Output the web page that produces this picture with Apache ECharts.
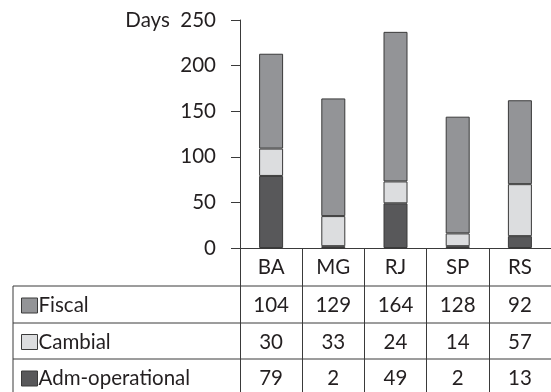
<!DOCTYPE html>
<html>
<head>
<meta charset="utf-8">
<script src="https://cdn.jsdelivr.net/npm/echarts@6/dist/echarts.min.js"></script>
<style>
  html, body { margin: 0; padding: 0; background: #fff; }
  #chart { width: 551px; height: 392px; }
</style>
</head>
<body>
<div id="chart"></div>
<script>
// Days per state, split by kind of delay
const states = ['BA', 'MG', 'RJ', 'SP', 'RS'];
const fiscal = [104, 129, 164, 128, 92];
const cambial = [30, 33, 24, 14, 57];
const admOperational = [79, 2, 49, 2, 13];
const yTicks = [0, 50, 100, 150, 200, 250];

const FONT = 'Lato';
const FONT_SIZE = 20.5;
const INK = '#231f20';
const LINE = '#3a3a3a';

// table geometry
const AXIS_Y = 248;
const ROW_OFFSETS = [38, 75, 111];
const TABLE_LEFT = 13;

const chart = echarts.init(document.getElementById('chart'), null, { renderer: 'canvas' });

const labelStyle = { fontSize: FONT_SIZE, fontFamily: FONT, color: INK, lineHeight: 20 };

function valueAxis(values, offset) {
  return {
    type: 'category',
    data: values.map(String),
    position: 'bottom',
    offset: offset,
    gridIndex: 0,
    axisLine: { show: false },
    axisTick: { show: false },
    axisLabel: Object.assign({ margin: 9 }, labelStyle)
  };
}

const colors = { fiscal: '#939497', cambial: '#dcdddf', adm: '#58585a' };
const barStyle = c => ({ color: c, borderColor: LINE, borderWidth: 1 });

const hLines = ROW_OFFSETS.map(o => ({
  type: 'line',
  shape: { x1: TABLE_LEFT, y1: AXIS_Y + o, x2: 551, y2: AXIS_Y + o },
  style: { stroke: LINE, lineWidth: 1 }
}));
hLines.push({
  type: 'line',
  shape: { x1: TABLE_LEFT, y1: AXIS_Y + ROW_OFFSETS[0], x2: TABLE_LEFT, y2: 392 },
  style: { stroke: LINE, lineWidth: 1 }
});

chart.setOption({
  animation: false,
  backgroundColor: '#ffffff',
  grid: { left: 240, top: 20, width: 312, height: AXIS_Y - 20 },
  legend: {
    orient: 'vertical',
    left: 21,
    top: 295,
    width: 215,
    height: 110,
    padding: 0,
    itemWidth: 16,
    itemHeight: 15,
    itemGap: 15.5,
    icon: 'rect',
    selectedMode: false,
    data: ['Fiscal', 'Cambial', 'Adm-operational'],
    itemStyle: { borderColor: LINE, borderWidth: 1 },
    textStyle: Object.assign({ padding: [0, 0, 0, -4] }, labelStyle)
  },
  xAxis: [
    {
      type: 'category',
      data: states,
      position: 'bottom',
      axisLine: { show: true, lineStyle: { color: LINE, width: 1 } },
      axisTick: { show: true, alignWithLabel: false, interval: 0, length: 392 - AXIS_Y, lineStyle: { color: LINE, width: 1 } },
      axisLabel: Object.assign({ margin: 9 }, labelStyle)
    },
    valueAxis(fiscal, ROW_OFFSETS[0]),
    valueAxis(cambial, ROW_OFFSETS[1]),
    valueAxis(admOperational, ROW_OFFSETS[2])
  ],
  yAxis: {
    type: 'value',
    min: yTicks[0],
    max: yTicks[yTicks.length - 1],
    interval: 50,
    splitLine: { show: false },
    axisLine: { show: true, lineStyle: { color: LINE, width: 1 } },
    axisTick: { show: true, length: 9, lineStyle: { color: LINE, width: 1 } },
    axisLabel: Object.assign({
      margin: 24,
      formatter: v => (v === yTicks[yTicks.length - 1] ? 'Days  ' + v : String(v))
    }, labelStyle)
  },
  series: [
    { name: 'Adm-operational', type: 'bar', stack: 'days', barWidth: 24, data: admOperational, itemStyle: barStyle(colors.adm) },
    { name: 'Cambial', type: 'bar', stack: 'days', barWidth: 24, data: cambial, itemStyle: barStyle(colors.cambial) },
    { name: 'Fiscal', type: 'bar', stack: 'days', barWidth: 24, data: fiscal, itemStyle: barStyle(colors.fiscal) }
  ],
  graphic: hLines
});
</script>
</body>
</html>
